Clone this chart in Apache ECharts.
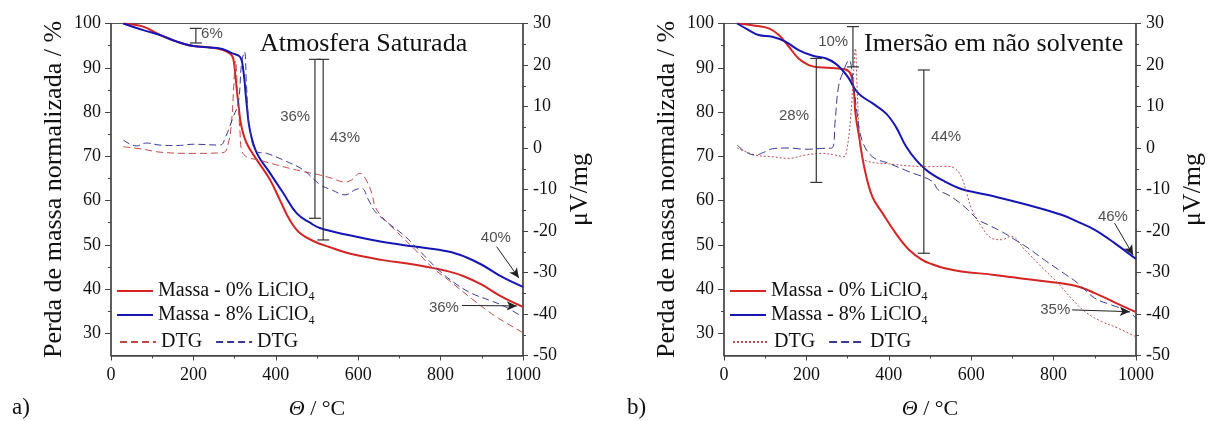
<!DOCTYPE html>
<html>
<head>
<meta charset="utf-8">
<script src="https://cdn.jsdelivr.net/npm/echarts@6/dist/echarts.min.js"></script>
<style>html,body{margin:0;background:#fff}#chart{width:1209px;height:421px}</style>
</head>
<body>
<div id="chart"></div>
<script>
// tick values
const yLeftTicks = [30, 40, 50, 60, 70, 80, 90, 100];
const yLeftMinor = [35, 45, 55, 65, 75, 85, 95];

// a) Atmosfera Saturada  [T / °C, value]
const massA0 = [[30,100],[78,99.3],[119,97.4],[160,95.9],[200,94.9],[240,94.6],[272,94.0],[290,93.1],[297,92.0],[302,88],[309,82],[316,77],[329,73.0],[354,69.2],[386,64.7],[410,60.1],[434,55.6],[459,52.6],[495,50.7],[530,49.5],[576,48.1],[657,46.6],[738,45.5],[819,44.0],[859,42.8],[900,41.0],[948,38.3],[1000,36.0]];
const massA8 = [[30,100],[78,98.5],[119,97.4],[160,95.9],[200,94.9],[240,94.6],[272,94.2],[293,93.3],[313,92.5],[321,89.5],[329,82.0],[337,76.0],[354,70.7],[386,66.2],[418,61.7],[451,57.1],[483,55.0],[507,53.8],[576,52.2],[657,50.7],[738,49.6],[819,48.5],[859,47.3],[900,45.5],[948,42.8],[1000,40.5]];
const dtgA0 = [[30,0.3],[78,-0.3],[119,-1.0],[200,-1.3],[272,-1.1],[285,1.2],[293,6.8],[298,15],[302,21],[308,12],[313,4],[317,-0.5],[329,-2.1],[359,-2.9],[418,-4.5],[467,-5.7],[507,-6.5],[536,-7.3],[568,-8.2],[584,-7.7],[604,-6.1],[617,-7.3],[633,-10.9],[641,-14.1],[657,-16.5],[697,-20.5],[738,-24.5],[778,-28.6],[819,-31.8],[859,-35.0],[900,-38.2],[940,-41.0],[1000,-44.5]];
const dtgA8 = [[30,1.9],[62,0.5],[86,1.2],[119,0.7],[160,0.6],[200,0.9],[265,0.7],[277,2.4],[297,7.6],[309,10.8],[317,20.4],[324,23.2],[329,14.8],[337,4.4],[354,-0.9],[378,-1.3],[418,-2.9],[467,-5.3],[507,-8.8],[536,-10.1],[568,-11.3],[592,-10.1],[608,-9.7],[625,-12.5],[641,-15.3],[673,-18.1],[714,-21.3],[754,-25.3],[795,-29.4],[835,-32.6],[875,-35.0],[916,-36.6],[956,-38.2],[1000,-40.8]];
// [T, top, bottom]
const bracketsA = [[206,98.9,95.6],[495,91.9,56.0],[515,91.9,51.1]];
const labelsA = [[245,97.6,'6%'],[447,79.0,'36%'],[568,74.1,'43%'],[934,51.5,'40%'],[808,35.7,'36%']];
const arrowsA = [[[936,49.6],[990,42.5]],[[852,36.3],[985,36.2]]];

// b) Imersão em não solvente
const massB0 = [[32,100],[76,99.5],[109,98.9],[133,97.4],[157,94.8],[181,92.1],[206,90.6],[230,90.1],[270,89.9],[295,89.6],[307,88.7],[315,85.0],[319,79.7],[328,74.4],[340,67.7],[360,60.9],[385,57.1],[417,52.6],[449,48.9],[481,46.6],[505,45.6],[536,44.7],[576,44.0],[657,43.2],[738,42.2],[819,41.3],[859,40.6],[900,39.1],[948,37.0],[1000,34.8]];
const massB8 = [[32,100],[60,98.5],[84,97.4],[117,97.0],[149,95.9],[181,94.0],[216,92.7],[248,92.1],[270,91.0],[287,89.5],[303,87.6],[319,85.0],[335,83.5],[360,82.0],[393,79.7],[417,76.7],[442,72.2],[466,69.2],[495,66.6],[536,64.3],[576,62.6],[617,61.7],[657,60.9],[738,59.0],[819,56.8],[859,55.2],[900,53.4],[948,50.4],[1000,46.8]];
const dtgB0 = [[32,0],[76,-1.7],[117,-2.1],[157,-2.5],[197,-1.7],[238,-1.3],[270,-1.7],[291,-2.1],[298,-0.5],[307,6.8],[315,18.8],[319,24.0],[323,14.8],[328,4.4],[335,-2.1],[351,-3.3],[400,-3.8],[449,-4.3],[505,-4.5],[536,-4.4],[560,-4.9],[576,-6.9],[589,-10.9],[602,-14.9],[625,-18.9],[649,-21.7],[673,-22.1],[697,-21.3],[730,-24.5],[770,-28.6],[811,-32.6],[843,-36.2],[876,-39.4],[916,-41.8],[956,-43.4],[1000,-45.5]];
const dtgB8 = [[32,0.7],[52,-0.9],[76,-1.7],[100,-0.9],[117,-0.2],[157,0],[197,-0.3],[238,-0.1],[262,0],[270,6.8],[278,14.8],[291,18.8],[303,21.2],[315,14.8],[323,8.4],[335,1.9],[360,-2.1],[400,-3.7],[449,-5.7],[505,-8.0],[520,-10.1],[544,-11.3],[568,-12.9],[592,-14.9],[617,-17.3],[641,-18.5],[673,-20.1],[706,-22.1],[738,-24.1],[778,-27.0],[819,-29.8],[859,-32.6],[900,-36.2],[940,-37.8],[981,-39.4],[1000,-41.0]];
const bracketsB = [[313,99.3,90.2],[224,92.1,64.1],[485,89.5,48.1]];
const labelsB = [[265,95.9,'10%'],[170,79.2,'28%'],[539,74.4,'44%'],[944,56.4,'46%'],[804,35.3,'35%']];
const arrowsB = [[[948,54.9],[993,47.7]],[[845,35.3],[985,34.9]]];

const SERIF = '"Liberation Serif", "Times New Roman", serif';
const INK = '#111';
const AXIS = '#444';
const RED = '#d42424', BLUE = '#1616b4';

const grids = [111, 724].map(left => ({
  left, top: 23.5, width: 412, height: 332, outerBoundsMode: 'none',
  show: true, borderColor: '#555', borderWidth: 1
}));

const axisLine = {onZero: false, lineStyle: {color: AXIS, width: 1.5}};
const tickLabel = () => ({fontFamily: SERIF, fontSize: 18, color: INK, formatter: v => String(v)});
const nameStyle = {fontFamily: SERIF, fontSize: 26, color: INK};

const xAxes = [0, 1].map(gi => ({
  type: 'value', gridIndex: gi, min: 0, max: 1000, interval: 200,
  axisLine, axisTick: {length: 5, lineStyle: {color: AXIS}},
  minorTick: {show: true, splitNumber: 2, length: 3, lineStyle: {color: AXIS}},
  splitLine: {show: false},
  axisLabel: Object.assign(tickLabel(), {margin: 11}),
  name: '{i|Θ} / °C', nameLocation: 'middle', nameGap: 43,
  nameTextStyle: {fontFamily: SERIF, fontSize: 22, color: INK, rich: {i: {fontFamily: SERIF, fontSize: 22, fontStyle: 'italic', color: INK}}}
}));

const yAxes = [];
[0, 1].forEach(gi => {
  yAxes.push({
    type: 'value', gridIndex: gi, position: 'left', min: 25, max: 100,
    axisLine: Object.assign({show: true}, axisLine),
    axisTick: {show: true, customValues: yLeftTicks, length: 6, lineStyle: {color: AXIS}},
    axisLabel: Object.assign(tickLabel(), {customValues: yLeftTicks, margin: 10}),
    splitLine: {show: false},
    name: 'Perda de massa normalizada / %', nameLocation: 'middle', nameGap: 44, nameTextStyle: nameStyle
  });
  yAxes.push({
    type: 'value', gridIndex: gi, position: 'right', min: -50, max: 30, interval: 10,
    axisLine: Object.assign({show: true}, axisLine),
    axisTick: {show: true, length: 5, lineStyle: {color: AXIS}},
    minorTick: {show: true, splitNumber: 2, length: 3, lineStyle: {color: AXIS}},
    axisLabel: Object.assign(tickLabel(), {margin: 10}),
    splitLine: {show: false},
    name: 'μV/mg', nameLocation: 'middle', nameGap: 44, nameRotate: 90, nameTextStyle: nameStyle
  });
  yAxes.push({
    type: 'value', gridIndex: gi, position: 'left', min: 25, max: 100,
    axisLine: {show: false},
    axisTick: {show: true, customValues: yLeftMinor, length: 3, lineStyle: {color: AXIS}},
    axisLabel: {show: false}, splitLine: {show: false}
  });
});

function line(gi, name, data, color, width, type, right) {
  return {
    type: 'line', name, data, xAxisIndex: gi, yAxisIndex: gi * 3 + (right ? 1 : 0),
    symbol: 'none', smooth: 0.4, silent: true,
    lineStyle: {color, width, type}, itemStyle: {color}
  };
}

function brackets(gi, data) {
  return {
    type: 'custom', xAxisIndex: gi, yAxisIndex: gi * 3, data, silent: true, z: 5,
    encode: {x: 0, y: [1, 2]},
    renderItem(params, api) {
      const a = api.coord([api.value(0), api.value(1)]);
      const b = api.coord([api.value(0), api.value(2)]);
      const w = 6, st = {stroke: '#333', lineWidth: 1.2};
      return {type: 'group', children: [
        {type: 'line', shape: {x1: a[0], y1: a[1], x2: b[0], y2: b[1]}, style: st},
        {type: 'line', shape: {x1: a[0] - w, y1: a[1], x2: a[0] + w, y2: a[1]}, style: st},
        {type: 'line', shape: {x1: b[0] - w, y1: b[1], x2: b[0] + w, y2: b[1]}, style: st}
      ]};
    }
  };
}

function notes(gi, labels, arrows) {
  return {
    type: 'scatter', xAxisIndex: gi, yAxisIndex: gi * 3, silent: true, z: 6,
    symbolSize: 1, itemStyle: {color: 'rgba(0,0,0,0)'},
    data: labels.map(l => ({value: [l[0], l[1]], name: l[2]})),
    label: {show: true, position: 'inside', formatter: '{b}', fontFamily: '"Liberation Sans", Arial, sans-serif', fontSize: 15, color: '#222'},
    markLine: {
      silent: true, symbol: ['none', 'arrow'], symbolSize: [7, 10], animation: false,
      lineStyle: {color: '#222', width: 1, type: 'solid'}, label: {show: false},
      data: arrows.map(a => [{coord: a[0]}, {coord: a[1]}])
    }
  };
}

const series = [
  line(0, 'Massa - 0% LiClO4', massA0, RED, 2, 'solid'),
  line(0, 'Massa - 8% LiClO4', massA8, BLUE, 2, 'solid'),
  line(0, 'DTG', dtgA0, '#c24848', 1, [7, 4], true),
  line(0, 'DTG ', dtgA8, '#3a3a96', 1, [7, 4], true),
  brackets(0, bracketsA),
  notes(0, labelsA, arrowsA),
  line(1, 'Massa - 0% LiClO4', massB0, RED, 2, 'solid'),
  line(1, 'Massa - 8% LiClO4', massB8, BLUE, 2, 'solid'),
  line(1, 'DTG  ', dtgB0, '#b85050', 1, [2, 2], true),
  line(1, 'DTG   ', dtgB8, '#3a3a96', 1, [8, 4], true),
  brackets(1, bracketsB),
  notes(1, labelsB, arrowsB)
];

const legendText = {
  fontFamily: SERIF, fontSize: 20, color: INK,
  rich: {s: {fontFamily: SERIF, fontSize: 12, color: INK, padding: [12, 0, 0, 0]}}
};
const fmt = n => n.trim().replace('LiClO4', 'LiClO{s|4}');
const legends = [];
[[116, ['DTG', 'DTG ']], [729, ['DTG  ', 'DTG   ']]].forEach(([x, dtg]) => {
  legends.push({
    left: x, top: 281, orient: 'vertical', itemWidth: 36, itemHeight: 14, itemGap: 2, padding: 0,
    data: ['Massa - 0% LiClO4', 'Massa - 8% LiClO4'], formatter: fmt, textStyle: legendText,
    itemStyle: {opacity: 0}, selectedMode: false
  });
  legends.push({
    left: x + 3, top: 332, orient: 'horizontal', itemWidth: 36, itemHeight: 14, itemGap: 13, padding: 0,
    data: dtg, formatter: fmt, textStyle: legendText, itemStyle: {opacity: 0}, selectedMode: false
  });
});

const titleStyle = {fontFamily: SERIF, fontSize: 26, fontWeight: 'normal', color: INK};
const chart = echarts.init(document.getElementById('chart'));
chart.setOption({
  animation: false,
  backgroundColor: '#fff',
  title: [
    {text: 'Atmosfera Saturada', left: 260, top: 31, padding: 0, textStyle: titleStyle},
    {text: 'Imersão em não solvente', left: 864, top: 31, padding: 0, textStyle: titleStyle},
    {text: 'a)', left: 12, top: 396, padding: 0, textStyle: Object.assign({}, titleStyle, {fontSize: 23})},
    {text: 'b)', left: 627, top: 396, padding: 0, textStyle: Object.assign({}, titleStyle, {fontSize: 23})}
  ],
  legend: legends,
  grid: grids,
  xAxis: xAxes,
  yAxis: yAxes,
  series
});
</script>
</body>
</html>
